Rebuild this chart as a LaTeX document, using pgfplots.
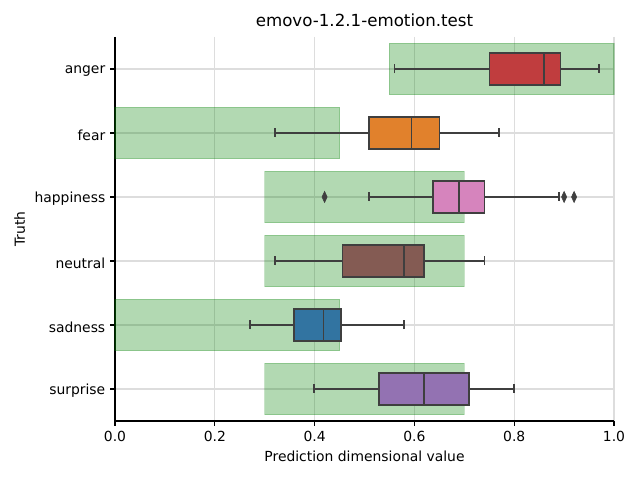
\documentclass[border=0pt]{standalone}
\usepackage{pgfplots}
\pgfplotsset{compat=1.18}
\usepgfplotslibrary{statistics}
\usepackage{fontspec}
\setmainfont{DejaVu Sans}
\definecolor{angerc}{RGB}{192,61,62}
\definecolor{fearc}{RGB}{225,129,44}
\definecolor{happyc}{RGB}{214,132,189}
\definecolor{neutc}{RGB}{132,91,83}
\definecolor{sadc}{RGB}{50,116,161}
\definecolor{surpc}{RGB}{147,114,178}
\definecolor{linec}{RGB}{63,63,63}
\definecolor{mplgreen}{RGB}{0,128,0}
\definecolor{gridc}{RGB}{221,221,221}
\pgfplotsset{
  bx/.style={draw=linec, line width=1.1pt, solid, mark=none,
    boxplot/box extend=0.5, boxplot/whisker extend=0.14,
    boxplot/every whisker/.style={draw=linec, line width=1.1pt},
    boxplot/every median/.style={draw=linec, line width=1.1pt}},
  rng/.style={fill=mplgreen, fill opacity=0.3, draw=mplgreen, draw opacity=0.22, line width=0.8pt},
}
\begin{document}
\begin{tikzpicture}
\path[use as bounding box] (-82.8pt,-42.5pt) rectangle (378pt,303.1pt);
\begin{axis}[
  scale only axis, width=359.3pt, height=276.5pt,
  xmin=0, xmax=1, ymin=-0.5, ymax=5.5, y dir=reverse,
  axis lines*=left,
  axis line style={line width=0.8pt},
  xtick={0,0.2,0.4,0.6,0.8,1.0},
  xticklabel style={/pgf/number format/.cd, fixed, fixed zerofill, precision=1},
  /pgf/number format/assume math mode=true,
  ytick={0,1,2,3,4,5},
  yticklabels={anger,fear,happiness,neutral,sadness,surprise},
  yticklabel style={yshift=-1.5pt},
  tick align=outside, tick style={line width=0.8pt, black},
  major tick length=3.5pt,
  grid=major, major grid style={gridc, line width=0.8pt},
  tick label style={font=\fontsize{10}{12}\selectfont},
  label style={font=\fontsize{10}{12}\selectfont},
  xlabel={Prediction dimensional value}, ylabel={Truth},
  title={emovo-1.2.1-emotion.test},
  title style={font=\fontsize{12}{14}\selectfont, yshift=-2pt},
  clip=false,
]
% green ranges
\addplot[rng] coordinates {(0.55,-0.4) (1.0,-0.4) (1.0,0.4) (0.55,0.4)} -- cycle;
\addplot[rng] coordinates {(0,0.6) (0.45,0.6) (0.45,1.4) (0,1.4)} -- cycle;
\addplot[rng] coordinates {(0.3,1.6) (0.7,1.6) (0.7,2.4) (0.3,2.4)} -- cycle;
\addplot[rng] coordinates {(0.3,2.6) (0.7,2.6) (0.7,3.4) (0.3,3.4)} -- cycle;
\addplot[rng] coordinates {(0,3.6) (0.45,3.6) (0.45,4.4) (0,4.4)} -- cycle;
\addplot[rng] coordinates {(0.3,4.6) (0.7,4.6) (0.7,5.4) (0.3,5.4)} -- cycle;
% boxes
\addplot[bx, fill=angerc, boxplot prepared={draw position=0, lower whisker=0.56, lower quartile=0.75, median=0.86, upper quartile=0.893, upper whisker=0.97}] coordinates {};
\addplot[bx, fill=fearc, boxplot prepared={draw position=1, lower whisker=0.321, lower quartile=0.509, median=0.594, upper quartile=0.65, upper whisker=0.77}] coordinates {};
\addplot[bx, fill=happyc, boxplot prepared={draw position=2, lower whisker=0.509, lower quartile=0.637, median=0.689, upper quartile=0.74, upper whisker=0.89}] coordinates {};
\addplot[bx, fill=neutc, boxplot prepared={draw position=3, lower whisker=0.321, lower quartile=0.456, median=0.579, upper quartile=0.619, upper whisker=0.74}] coordinates {};
\addplot[bx, fill=sadc, boxplot prepared={draw position=4, lower whisker=0.271, lower quartile=0.359, median=0.418, upper quartile=0.453, upper whisker=0.579}] coordinates {};
\addplot[bx, fill=surpc, boxplot prepared={draw position=5, lower whisker=0.399, lower quartile=0.529, median=0.619, upper quartile=0.709, upper whisker=0.80}] coordinates {};
% outliers
\addplot[only marks, mark=diamond*, mark size=4pt, mark options={fill=linec, draw=linec, xscale=0.62}] coordinates {(0.42,2) (0.90,2) (0.92,2)};
\end{axis}
\end{tikzpicture}
\end{document}
